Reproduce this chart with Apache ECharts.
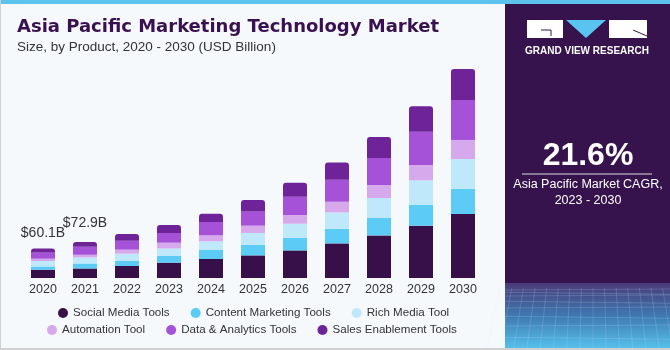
<!DOCTYPE html>
<html>
<head>
<meta charset="utf-8">
<script src="https://cdn.jsdelivr.net/npm/echarts@6/dist/echarts.min.js"></script>
<style>
  html, body { margin: 0; padding: 0; background: #f5f9fc; }
  #chart { width: 670px; height: 350px; }
</style>
</head>
<body>
<div id="chart"></div>
<script>
// values, USD billion
var years = ['2020', '2021', '2022', '2023', '2024', '2025', '2026', '2027', '2028', '2029', '2030'];
var socialMedia = [16.8, 19.3, 24.4, 31.1, 38.6, 45.9, 56.0, 70.2, 86.5, 106.2, 129.9];
var contentMarketing = [6.7, 10.2, 10.8, 13.6, 18.3, 21.7, 25.8, 29.8, 35.3, 42.0, 51.4];
var richMedia = [11.0, 12.2, 14.2, 15.4, 17.5, 23.8, 28.4, 33.1, 40.6, 49.9, 60.3];
var automation = [4.7, 5.5, 8.1, 11.6, 12.2, 14.8, 17.7, 21.7, 26.4, 31.3, 38.6];
var dataAnalytics = [12.8, 16.2, 18.3, 19.7, 27.2, 29.0, 37.1, 44.7, 54.8, 67.6, 81.2];
var salesEnablement = [8.1, 9.5, 13.6, 16.2, 16.8, 23.1, 28.4, 35.1, 42.6, 51.4, 62.9];
var totalLabels = ['$60.1B', '$72.9B'];

var names = ['Social Media Tools', 'Content Marketing Tools', 'Rich Media Tool',
  'Automation Tool', 'Data & Analytics Tools', 'Sales Enablement Tools'];
var colors = ['#37104a', '#5ccbf5', '#bfe9fa', '#d6a9ec', '#a552d8', '#6e2399'];
var values = [socialMedia, contentMarketing, richMedia, automation, dataAnalytics, salesEnablement];

var font = '"Liberation Sans", Arial, sans-serif';

var series = values.map(function (arr, i) {
  var isTop = i === values.length - 1;
  var data = arr.map(function (v, j) {
    if (isTop && j < totalLabels.length) {
      return {
        value: v,
        label: {
          show: true, position: 'top', distance: j === 0 ? 8 : 12,
          formatter: totalLabels[j], color: '#333', fontSize: 14, fontFamily: font
        }
      };
    }
    return v;
  });
  return {
    name: names[i],
    type: 'bar',
    stack: 'total',
    barWidth: 24,
    data: data,
    itemStyle: {
      color: colors[i],
      borderRadius: isTop ? [3, 3, 0, 0] : 0
    }
  };
});

// faint mesh in the bottom of the side panel (decoration only)
var mesh = [];
for (var k = 0; k < 9; k++) {
  var yy = 290 + k * k * 0.75 + k * 1.5;
  mesh.push({ type: 'line', z: 7, silent: true,
    shape: { x1: 505, y1: yy, x2: 670, y2: yy + (k % 2 ? 2 : -1) },
    style: { stroke: 'rgba(200,225,255,0.25)', lineWidth: 0.8 } });
}
for (var m = 0; m < 16; m++) {
  var xt = 505 + m * 11;
  mesh.push({ type: 'line', z: 7, silent: true,
    shape: { x1: xt + (m - 8) * 0.6, y1: 288, x2: xt + (m - 8) * 2.2, y2: 348 },
    style: { stroke: 'rgba(200,225,255,0.22)', lineWidth: 0.8 } });
}

var chart = echarts.init(document.getElementById('chart'));

var legendBase = {
  orient: 'horizontal',
  icon: 'circle',
  padding: 0,
  itemWidth: 10,
  itemHeight: 10,
  itemGap: 21,
  textStyle: { color: '#333', fontSize: 11.6, fontFamily: font }
};

chart.setOption({
  backgroundColor: '#f5f9fc',
  animation: false,
  title: [{
    text: 'Asia Pacific Marketing Technology Market',
    left: 17, top: 18, padding: 0,
    textStyle: { color: '#3a1150', fontSize: 18, fontWeight: 'bold', fontFamily: '"DejaVu Sans", sans-serif' }
  }, {
    text: 'Size, by Product, 2020 - 2030 (USD Billion)',
    left: 17, top: 40, padding: 0,
    textStyle: { color: '#333', fontSize: 13.5, fontWeight: 'normal', fontFamily: font }
  }],
  legend: [
    Object.assign({ data: names.slice(0, 3), left: 58, top: 307 }, legendBase),
    Object.assign({ data: names.slice(3), left: 47, top: 324 }, legendBase)
  ],
  grid: { left: 22, width: 462, top: 60, bottom: 72 },
  xAxis: {
    type: 'category',
    data: years,
    axisLine: { show: false },
    axisTick: { show: false },
    axisLabel: { color: '#333', fontSize: 12.5, fontFamily: font, margin: 5 }
  },
  yAxis: {
    type: 'value',
    min: 0,
    max: 442.5,
    show: false,
    splitLine: { show: false }
  },
  series: series,
  graphic: [
    { type: 'rect', shape: { x: 0, y: 0, width: 670, height: 4 }, style: { fill: '#5bc3ec' }, z: 10 },
    { type: 'rect', shape: { x: 0, y: 0, width: 1, height: 350 }, style: { fill: '#d0d0d0' }, z: 10 },
    { type: 'rect', shape: { x: 0, y: 348, width: 670, height: 2 }, style: { fill: '#d0d0d0' }, z: 10 },
    { type: 'rect', shape: { x: 505, y: 4, width: 165, height: 344 }, style: { fill: '#37134d' }, z: 5 },
    {
      type: 'rect', shape: { x: 505, y: 283, width: 165, height: 65 }, z: 6,
      style: {
        fill: new echarts.graphic.LinearGradient(0, 0, 0, 1, [
          { offset: 0, color: '#4a3a78' },
          { offset: 0.5, color: '#3f78b0' },
          { offset: 1, color: '#55c0ea' }
        ])
      }
    },
    { type: 'rect', shape: { x: 527, y: 20, width: 36, height: 18 }, style: { fill: '#fff' }, z: 7 },
    { type: 'polyline', shape: { points: [[541, 30], [551, 30], [551, 36]] }, style: { stroke: '#37134d', lineWidth: 1, fill: null }, z: 8 },
    { type: 'polygon', shape: { points: [[566, 20], [606, 20], [586, 38]] }, style: { fill: '#5ac4f0' }, z: 7 },
    { type: 'rect', shape: { x: 609, y: 20, width: 38, height: 18 }, style: { fill: '#fff' }, z: 7 },
    { type: 'line', shape: { x1: 633, y1: 30, x2: 647, y2: 36 }, style: { stroke: '#37134d', lineWidth: 1 }, z: 8 },
    {
      type: 'text', x: 587, y: 51, z: 7,
      style: { text: 'GRAND VIEW RESEARCH', fill: '#fff', font: 'bold 10px ' + font, align: 'center', verticalAlign: 'middle' }
    },
    {
      type: 'text', x: 588, y: 156, z: 7,
      style: { text: '21.6%', fill: '#fff', font: 'bold 32px ' + font, align: 'center', verticalAlign: 'middle' }
    },
    { type: 'line', shape: { x1: 522, y1: 174, x2: 652, y2: 174 }, style: { stroke: '#ddd', lineWidth: 1 }, z: 7 },
    {
      type: 'text', x: 588, y: 185, z: 7,
      style: { text: 'Asia Pacific Market CAGR,', fill: '#fff', font: '12.5px ' + font, align: 'center', verticalAlign: 'middle' }
    },
    {
      type: 'text', x: 588, y: 201, z: 7,
      style: { text: '2023 - 2030', fill: '#fff', font: '12.5px ' + font, align: 'center', verticalAlign: 'middle' }
    }
  ].concat(mesh)
});
</script>
</body>
</html>
